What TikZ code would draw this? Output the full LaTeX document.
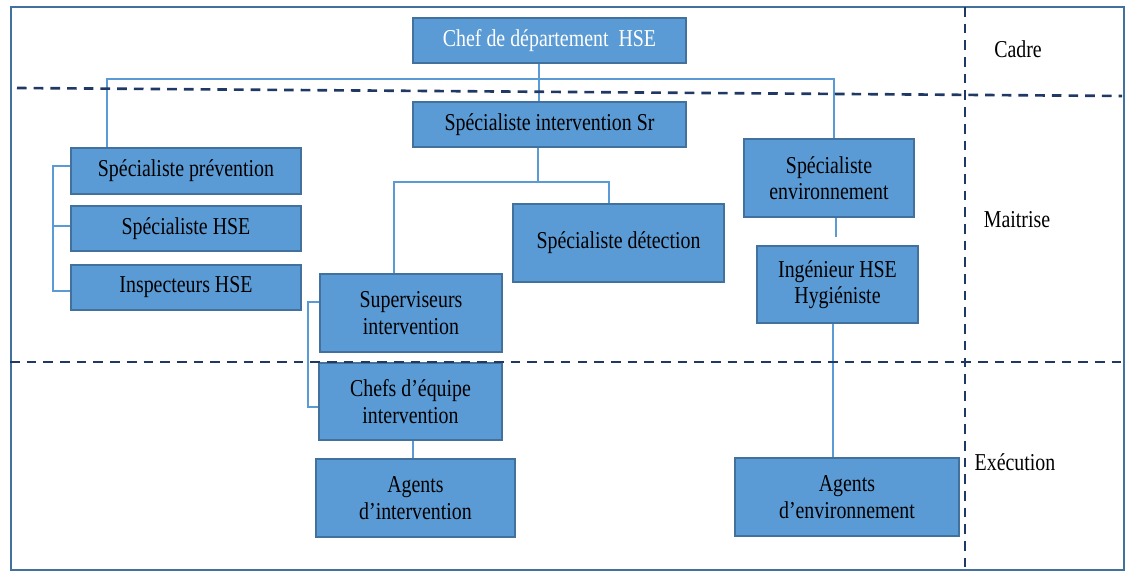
\documentclass[tikz,border=0pt]{standalone}
\usepackage{fontspec}
\setmainfont{Liberation Serif}[FakeStretch=0.82]
\definecolor{boxfill}{HTML}{5B9BD5}
\definecolor{boxline}{HTML}{41719C}
\definecolor{linkcol}{HTML}{5B9BD5}
\definecolor{levelcol}{HTML}{1F3864}
\definecolor{framecol}{HTML}{41719C}
\tikzset{
  orgbox/.style={draw=boxline, fill=boxfill, line width=0.9pt, inner sep=0pt,
    align=center, font=\fontsize{13.8}{15}\selectfont, text=black},
  sz/.style n args={2}{minimum width=#1*0.02cm, minimum height=#2*0.02cm},
  link/.style={draw=linkcol, line width=0.75pt},
  levelline/.style={draw=levelcol, line width=1.5pt, dash pattern=on 5.5pt off 4pt},
  levellabel/.style={font=\fontsize{13.8}{15}\selectfont, text=black, inner sep=0pt}
}
\begin{document}
\begin{tikzpicture}[x=0.02cm, y=-0.02cm]
\useasboundingbox (0,0) rectangle (1129,572);
% outer frame
\draw[draw=framecol, line width=1.1pt] (11,7) rectangle (1124,570);

% boxes
\node[orgbox, sz={273}{45}, text=white] (chef) at (549.5,40.5) {Chef de département\ \ HSE};
\node[orgbox, sz={273}{45}] (spsr) at (549.5,124.5) {Spécialiste intervention Sr};
\node[orgbox, sz={230}{46}] (spprev) at (186,171) {Spécialiste prévention};
\node[orgbox, sz={230}{45}] (sphse) at (186,228.5) {Spécialiste HSE};
\node[orgbox, sz={230}{45}] (insp) at (186,287.5) {Inspecteurs HSE};
\node[orgbox, sz={182}{78}] (superv) at (411,313) {Superviseurs\\intervention};
\node[orgbox, sz={211}{78}] (spdet) at (618.5,243) {Spécialiste détection};
\node[orgbox, sz={170}{78}] (spenv) at (829,178) {Spécialiste\\environnement};
\node[orgbox, sz={161}{77}] (ing) at (837.5,284.5) {Ingénieur HSE\\Hygiéniste};
\node[orgbox, sz={183}{77}] (chefeq) at (410.5,401.5) {Chefs d’équipe\\intervention};
\node[orgbox, sz={199}{78}] (agint) at (415.5,498) {Agents\\d’intervention};
\node[orgbox, sz={224}{78}] (agenv) at (847,497) {Agents\\d’environnement};

% level labels
\node[levellabel] (cadre) at (1018,49) {Cadre};
\node[levellabel] (maitrise) at (1017,220) {Maitrise};
\node[levellabel] (execution) at (1015,462) {Exécution};

% connectors: top level
\coordinate (xc1) at (539,0);
\coordinate (bus1L) at (107,79);
\coordinate (bus1R) at (834,79);
\draw[link] (chef.south -| xc1) -- (spsr.north -| xc1);
\draw[link] (spprev.north -| bus1L) |- (bus1R) -- (spenv.north -| bus1R);

% prevention group bracket
\coordinate (t1) at (53,166);
\coordinate (t2) at (53,226);
\coordinate (t3) at (53,291);
\draw[link] (spprev.west |- t1) -- (t1) -- (t3) -- (insp.west |- t3);
\draw[link] (t2) -- (sphse.west |- t2);

% intervention branch
\coordinate (xc2) at (538,0);
\coordinate (bus2L) at (394,182);
\coordinate (bus2R) at (609,182);
\draw[link] (spsr.south -| xc2) -- (xc2 |- bus2L);
\draw[link] (superv.north -| bus2L) |- (bus2R) -- (spdet.north -| bus2R);

% supervisors / team leaders bracket
\coordinate (s1) at (308,302);
\coordinate (s2) at (308,407);
\draw[link] (superv.west |- s1) -- (s1) -- (s2) -- (chefeq.west |- s2);

\coordinate (xc3) at (413,0);
\draw[link] (chefeq.south -| xc3) -- (agint.north -| xc3);

% environment branch
\coordinate (envend) at (836,237);
\draw[link] (spenv.south -| envend) -- (envend);
\coordinate (xc4) at (833,0);
\draw[link] (ing.south -| xc4) -- (agenv.north -| xc4);

% level separators
\coordinate (h1a) at (17,88);
\coordinate (h1b) at (1122,96);
\coordinate (h2a) at (10,362);
\coordinate (h2b) at (1122,362);
\coordinate (v1a) at (965,7);
\coordinate (v1b) at (965,570);
\draw[levelline] (h1a) -- (h1b);
\draw[levelline] (h2a) -- (h2b);
\draw[levelline] (v1a) -- (v1b);
\end{tikzpicture}
\end{document}
